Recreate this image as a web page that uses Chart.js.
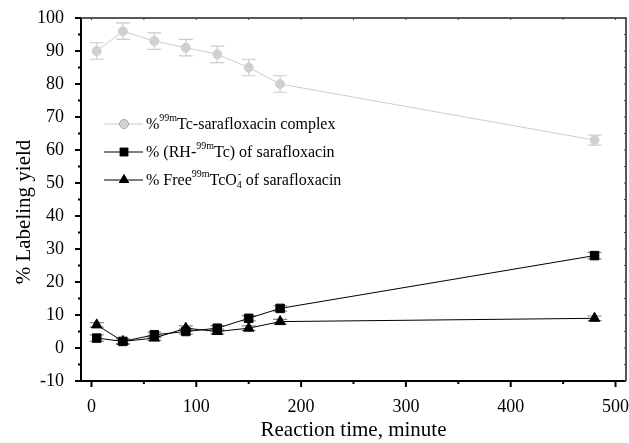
<!DOCTYPE html>
<html><head><meta charset="utf-8">
<script src="https://cdn.jsdelivr.net/npm/chart.js@4/dist/chart.umd.min.js"></script>
<style>html,body{margin:0;padding:0;background:#fff}#wrap{width:629px;height:443px}</style>
</head><body><div id="wrap"><canvas id="c" width="629" height="443"></canvas></div>
<script>
const times = [5, 30, 60, 90, 120, 150, 180, 480];
const complexY = [90, 96, 93, 91, 89, 85, 80, 63];
const complexErr = [2.5, 2.5, 2.5, 2.5, 2.5, 2.5, 2.5, 1.5];
const rhY = [3, 2, 4, 5, 6, 9, 12, 28];
const rhErr = [1, 0.8, 0.8, 0.8, 0.8, 0.8, 0.8, 1];
const freeY = [7, 2, 3, 6, 5, 6, 8, 9];
const freeErr = [0.7, 0.7, 0.7, 0.7, 0.7, 0.7, 0.7, 0.7];
const xTicks = [0, 100, 200, 300, 400, 500];
const xMinor = [50, 150, 250, 350, 450];
const yTicks = [-10, 0, 10, 20, 30, 40, 50, 60, 70, 80, 90, 100];
const yMinor = [-5, 5, 15, 25, 35, 45, 55, 65, 75, 85, 95];
const xTitle = 'Reaction time, minute';
const yTitle = '% Labeling yield';
const errs = [complexErr, rhErr, freeErr];
const errColors = ['#cccccc', '#888888', '#888888'];

const FONT = '"Liberation Serif", "Times New Roman", serif';

const pts = (ys) => times.map((t, i) => ({x: t, y: ys[i]}));

const errorBars = {
  id: 'errorBars',
  beforeDatasetsDraw(chart) {
    const ctx = chart.ctx, xs = chart.scales.x, ys = chart.scales.y;
    chart.data.datasets.forEach((ds, di) => {
      ctx.save();
      ctx.strokeStyle = errColors[di];
      ctx.lineWidth = 1.2;
      ds.data.forEach((p, i) => {
        const e = errs[di][i];
        const px = xs.getPixelForValue(p.x);
        const top = ys.getPixelForValue(p.y + e);
        const bot = ys.getPixelForValue(p.y - e);
        ctx.beginPath();
        ctx.moveTo(px, top); ctx.lineTo(px, bot);
        ctx.moveTo(px - 7, top); ctx.lineTo(px + 7, top);
        ctx.moveTo(px - 7, bot); ctx.lineTo(px + 7, bot);
        ctx.stroke();
      });
      ctx.restore();
    });
  }
};

const frame = {
  id: 'frame',
  afterDraw(chart) {
    const ctx = chart.ctx, a = chart.chartArea, xs = chart.scales.x, ys = chart.scales.y;
    ctx.save();
    ctx.strokeStyle = '#000';
    ctx.lineWidth = 2;
    ctx.beginPath();
    ctx.moveTo(a.left, a.top); ctx.lineTo(a.left, a.bottom); ctx.lineTo(a.right, a.bottom);
    ctx.stroke();
    ctx.strokeStyle = '#222';
    ctx.lineWidth = 1.5;
    ctx.beginPath();
    ctx.moveTo(a.left, a.top); ctx.lineTo(a.right, a.top); ctx.lineTo(a.right, a.bottom);
    ctx.stroke();
    ctx.lineWidth = 2;
    ctx.strokeStyle = '#000';
    ctx.beginPath();
    xTicks.forEach(v => { const p = xs.getPixelForValue(v); ctx.moveTo(p, a.bottom); ctx.lineTo(p, a.bottom + 6); });
    xMinor.forEach(v => { const p = xs.getPixelForValue(v); ctx.moveTo(p, a.bottom); ctx.lineTo(p, a.bottom + 3); });
    yTicks.forEach(v => { const p = ys.getPixelForValue(v); ctx.moveTo(a.left, p); ctx.lineTo(a.left - 6, p); });
    yMinor.forEach(v => { const p = ys.getPixelForValue(v); ctx.moveTo(a.left, p); ctx.lineTo(a.left - 3, p); });
    ctx.stroke();
    ctx.lineWidth = 1;
    ctx.strokeStyle = '#444';
    ctx.beginPath();
    xTicks.concat(xMinor).forEach(v => { const p = xs.getPixelForValue(v); ctx.moveTo(p, a.top); ctx.lineTo(p, a.top + 2); });
    yTicks.concat(yMinor).forEach(v => { const p = ys.getPixelForValue(v); ctx.moveTo(a.right, p); ctx.lineTo(a.right - 2, p); });
    ctx.stroke();
    // x tick labels
    ctx.fillStyle = '#000';
    ctx.font = '18px ' + FONT;
    ctx.textAlign = 'center';
    ctx.textBaseline = 'middle';
    xTicks.forEach(v => { ctx.fillText(String(v), xs.getPixelForValue(v), a.bottom + 26); });
    // y axis title
    ctx.font = '21px ' + FONT;
    ctx.translate(24, 212);
    ctx.rotate(-Math.PI / 2);
    ctx.fillText(yTitle, 0, 0);
    ctx.restore();
  }
};

// legend with super/subscripts: each row is a list of [text, kind]
const legendRows = [
  [['%', 'n'], ['99m', 'sup'], ['Tc-sarafloxacin complex', 'n']],
  [['% (RH-', 'n'], ['99m', 'sup'], ['Tc) of sarafloxacin', 'n']],
  [['% Free', 'n'], ['99m', 'sup'], ['TcO', 'n'], ['4', 'subsup', '-'], [' of sarafloxacin', 'n']]
];
const legendPlugin = {
  id: 'customLegend',
  afterDraw(chart) {
    const ctx = chart.ctx;
    const rowsY = [124, 152, 180];
    const x0 = 104, x1 = 143, mx = 124, tx = 146;
    ctx.save();
    chart.data.datasets.forEach((ds, i) => {
      const y = rowsY[i];
      ctx.strokeStyle = ds.borderColor;
      ctx.lineWidth = 1;
      ctx.beginPath(); ctx.moveTo(x0, y); ctx.lineTo(x1, y); ctx.stroke();
      Chart.helpers.drawPoint(ctx, {pointStyle: ds.pointStyle, radius: ds.pointRadius, borderWidth: 0}, mx, y);
      ctx.fillStyle = ds.pointBackgroundColor;
      ctx.fill();
      ctx.fillStyle = '#000';
      let x = tx;
      ctx.textBaseline = 'alphabetic';
      const base = y + 5;
      legendRows[i].forEach(seg => {
        if (seg[1] === 'n') {
          ctx.font = '16px ' + FONT;
          ctx.fillText(seg[0], x, base);
          x += ctx.measureText(seg[0]).width;
        } else if (seg[1] === 'sup') {
          ctx.font = '10px ' + FONT;
          ctx.fillText(seg[0], x, base - 8);
          x += ctx.measureText(seg[0]).width;
        } else {
          ctx.font = '10px ' + FONT;
          ctx.fillText(seg[0], x, base + 3);
          ctx.fillText(seg[2], x + 1, base - 8);
          x += Math.max(ctx.measureText(seg[0]).width, ctx.measureText(seg[2]).width + 1);
        }
      });
    });
    ctx.restore();
  }
};

new Chart(document.getElementById('c'), {
  type: 'line',
  data: {
    datasets: [
      {label: 'complex', data: pts(complexY), borderColor: '#cccccc', backgroundColor: '#d0d0d0',
       pointBackgroundColor: '#d0d0d0', pointBorderColor: '#d0d0d0', pointStyle: 'circle', pointRadius: 4.5, borderWidth: 1},
      {label: 'RH', data: pts(rhY), borderColor: '#000', backgroundColor: '#000',
       pointBackgroundColor: '#000', pointBorderColor: '#000', pointStyle: 'rect', pointRadius: 6, borderWidth: 1},
      {label: 'free', data: pts(freeY), borderColor: '#000', backgroundColor: '#000',
       pointBackgroundColor: '#000', pointBorderColor: '#000', pointStyle: 'triangle', pointRadius: 6, borderWidth: 1}
    ]
  },
  options: {
    responsive: false,
    animation: false,
    layout: {autoPadding: false, padding: {top: 18, right: 3, left: 0, bottom: 0}},
    plugins: {legend: {display: false}, tooltip: {enabled: false}},
    scales: {
      x: {
        type: 'linear', min: -10, max: 510,
        afterBuildTicks: s => { s.ticks = xTicks.map(v => ({value: v})); },
        afterFit: s => { s.height = 62; },
        grid: {display: false}, border: {display: false},
        ticks: {display: false},
        title: {display: true, text: xTitle, color: '#000', font: {family: FONT, size: 21}, padding: {top: 0, bottom: 0}}
      },
      y: {
        type: 'linear', min: -10, max: 100,
        afterBuildTicks: s => { s.ticks = yTicks.map(v => ({value: v})); },
        afterFit: s => { s.width = 81; s.paddingTop = 0; s.paddingBottom = 0; },
        grid: {display: false}, border: {display: false},
        ticks: {color: '#000', font: {family: FONT, size: 18}, padding: 9},
        title: {display: false}
      }
    }
  },
  plugins: [errorBars, frame, legendPlugin]
});
</script>
</body></html>
